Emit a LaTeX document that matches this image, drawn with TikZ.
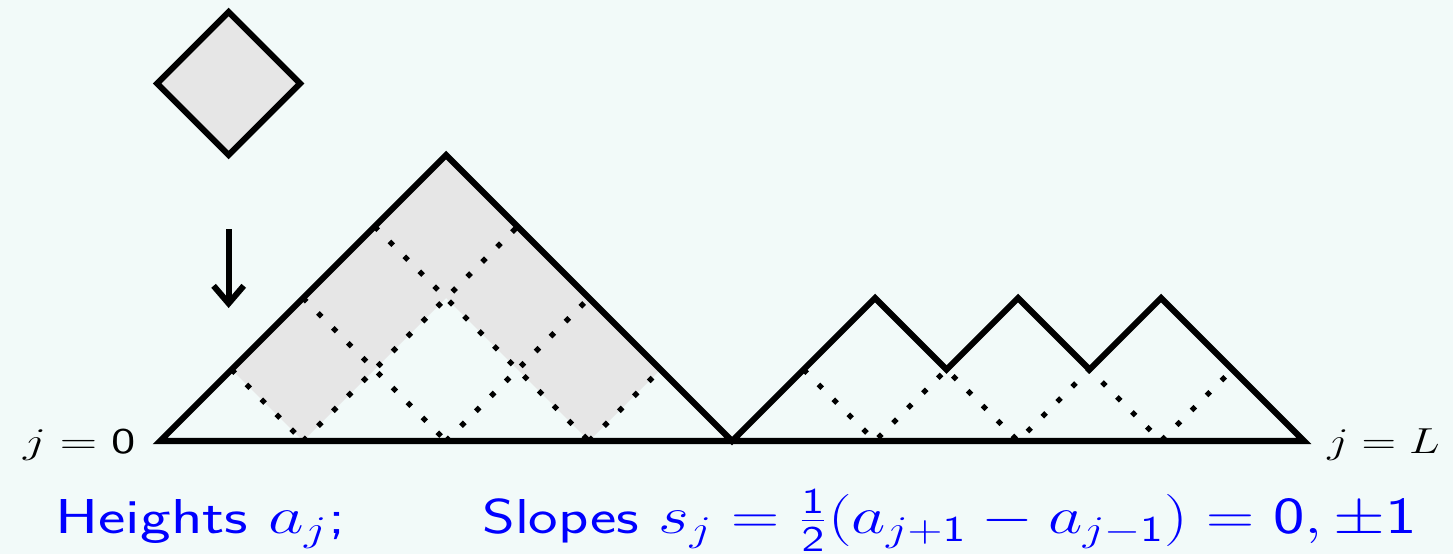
\documentclass[tikz,border=0pt]{standalone}
\usetikzlibrary{arrows.meta}
\definecolor{bgc}{RGB}{242,250,249}
\definecolor{tilegray}{RGB}{230,230,230}
\definecolor{txtblue}{RGB}{0,0,255}
\newcommand{\widetext}[2]{\scalebox{#1}[1]{#2}}
\begin{document}
\begin{tikzpicture}[
  outline/.style={line width=2.4pt, line join=miter},
  lattice/.style={line width=2.1pt, dash pattern=on 2.1pt off 6.3pt},
  tile/.style={fill=tilegray},
  endlabel/.style={inner sep=0pt, font=\fontsize{15}{18}\selectfont},
  caption/.style={inner sep=0pt, text=txtblue, font=\fontsize{19.5}{23}\selectfont\sffamily},
  droparrow/.style={line width=2.4pt, -{Straight Barb[length=7pt,width=12pt]}}
]
\fill[bgc] (-2.238,-1.580) rectangle (18.084,6.168);
\useasboundingbox (-2.238,-1.580) rectangle (18.084,6.168);

% gray tiles of the big pile
\fill[tile] (1,1) -- (4,4) -- (7,1) -- (6,0) -- (4,2) -- (2,0) -- cycle;

% lattice lines, big pile
\draw[lattice] (1,1) -- (2,0);
\draw[lattice] (2,2) -- (4,0);
\draw[lattice] (3,3) -- (6,0);
\draw[lattice] (2,0) -- (5,3);
\draw[lattice] (4,0) -- (6,2);
\draw[lattice] (6,0) -- (7,1);
% lattice lines, right part
\draw[lattice] (9,1) -- (10,0) -- (11,1) -- (12,0) -- (13,1) -- (14,0) -- (15,1);

% surface outline
\draw[outline] (0,0) -- (4,4) -- (8,0) -- (10,2) -- (11,1) -- (12,2) -- (13,1) -- (14,2) -- (16,0) -- cycle;

% falling tile
\draw[outline, tile] (0.96,6) -- (1.96,5) -- (0.96,4) -- (-0.04,5) -- cycle;
\coordinate (arrowstart) at (0.96,2.965);
\coordinate (arrowend) at (0.96,1.86);
\draw[droparrow] (arrowstart) -- (arrowend);

% end labels
\node[endlabel, anchor=base east] (j0) at (-0.336,-0.17) {\widetext{1.37}{$j=\mathsf{0}$}};
\node[endlabel, anchor=base west] (jL) at (16.32,-0.17) {\widetext{1.27}{$j=L$}};

% captions
\node[caption, anchor=base west] (heights) at (-1.47,-1.30) {\widetext{1.33}{Heights $a_j$;}};
\node[caption, anchor=base west] (slopes) at (4.50,-1.30) {\widetext{1.28}{Slopes $s_j=\frac{\mathsf{1}}{\mathsf{2}}(a_{j+\mathsf{1}}-a_{j-\mathsf{1}})=\mathsf{0},\pm\mathsf{1}$}};
\end{tikzpicture}
\end{document}
